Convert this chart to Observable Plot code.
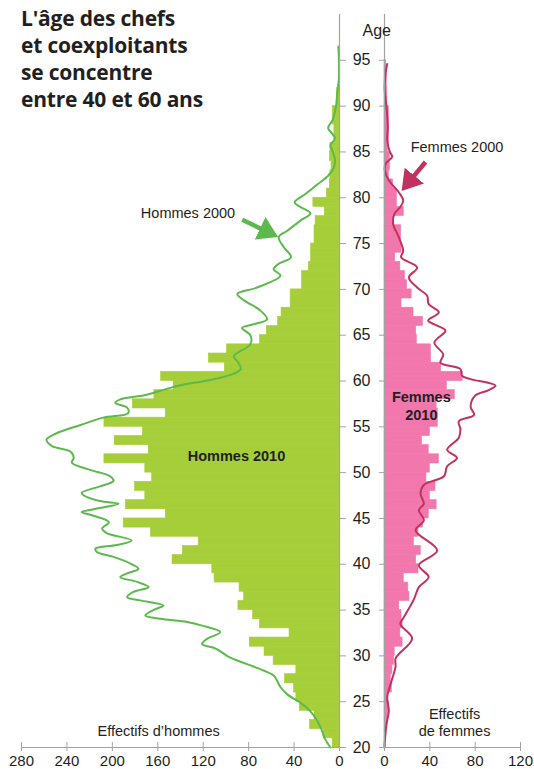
<!DOCTYPE html>
<html><head><meta charset="utf-8">
<script src="https://cdn.jsdelivr.net/npm/d3@7"></script>
<script src="https://cdn.jsdelivr.net/npm/@observablehq/plot@0.6"></script>
<style>
body{margin:0;background:#fff;}
#chart{position:relative;width:534px;height:769px;overflow:hidden;font-family:"Liberation Sans",Arial,sans-serif;}
#title{position:absolute;left:21px;top:5px;font-family:"Open Sans",Lato,sans-serif;font-weight:700;font-size:21px;line-height:27px;letter-spacing:-0.2px;color:#231f20;}
#men,#women{position:absolute;top:0;}
#men{left:0}
#women{left:345px}
</style></head><body>
<div id="chart"><div id="men"></div><div id="women"></div>
<div id="title">L'âge des chefs<br>et coexploitants<br>se concentre<br>entre 40 et 60 ans</div></div>
<script>
// ---- data ----
const menAges = d3.range(20, 92);
const men2010 = [6,14,26,22,35,38,40,48,38,58,
  66,79,44,70,76,89,84,88,110,112,
  147,138,124,166,190,153,188,171,180,165,
  171,207,168,198,173,207,153,182,163,146,
  157,101,115,99,70,64,54,51,43,43,
  33,33,27,25,25,22,22,21,13,23,
  11,8.5,8,7,8.5,8,4.5,4.5,6,6,
  2,2];
const womenAges = d3.range(20, 95);
const women2010 = [1,1.5,2.5,3,4,3,6.5,5.5,7,8.5,
  9,16,14,16,15,13,22,21,17,30,
  28,32,26,30,34,39,46,40,45,37,
  40,48,39,33,40,47,47,46,62,55,
  69,50,41,41,28.5,28,34,25.6,15,24,
  20,18,14,9.5,15,14.7,14.7,8,17,11,
  11,7.6,4,4.7,4.7,3,3.8,3.8,3.8,3.8,
  2.5,2.5,2,2,1.5];
const men2000Age = [96.5,95,93,91.5,90,88.5,87.6,87,86.5,85.7,85.2,84.2,83.3,82.4,81.5,80.4,79.5,79,78.3,77.5,
  76.4,75.7,74.6,73.5,72.8,72.2,71.5,70.2,69.5,68.8,67.7,66.75,66.2,65.8,65,64,62.7,62,61.3,60.8,
  60.1,59.8,59.25,58.5,58,57.6,57.1,56.5,56,55.2,54.3,53.6,52.9,52.3,51.6,51.1,50.3,49.6,49.1,48.5,
  47.8,47.5,46.9,46.6,46,45.7,45.3,44.6,43.9,43.4,42.6,42.1,41.7,41.35,40.8,40.07,39.5,39,38.6,38.07,
  37.5,37,36.4,36.06,35.5,35,34.4,34.05,33.7,33.3,32.6,31.85,31.3,30.8,29.9,29.1,28.4,27.85,27.3,26.6,
  25.8,24.9,24,23,22,21,20];
const men2000Val = [1,0.5,0.5,2,3,6,10,6.5,4,8,6.5,4,5,10,19,30,39.5,34.5,25.6,34.4,
  46,53.5,49,42.6,53.5,58,52,72.6,90,84,69.7,63.8,75.6,85.8,78.5,78.5,93,89,87,93,
  114,128.5,149,169.6,193,197.5,187,186,208,228,249,258,253,237,234,235.7,219.6,202,199,211,
  227,225,211,194.6,216.6,227,216.6,203,209,205,183,196,215,213.7,199,184,177,187,193,178,
  168,181,187,175.5,155,164,171,158,134,121,105,116.7,121,109,97.6,81.4,66.8,58,55,52,
  46,34.4,26,20,16,13,8];
const women2000Age = [94.6,93.6,91.75,89.9,87.7,86.3,85,84.5,83.7,83,81.9,80.6,79.7,79,78.25,77.15,75.7,74.2,73.5,72.4,
  71.3,70.2,69.3,68.4,67.5,66.6,66.2,65.5,64.2,62.9,62,61.3,60.55,60.2,59.5,59,58.4,57.2,56.3,55.6,
  54.7,53.8,52.5,51.6,50.7,49.6,48.65,47.7,46.6,45.9,44.8,43.7,41.5,39.9,38.6,37.5,36.2,34.2,33.5,31.9,
  30.2,29.7,28.8,26.9,25.5,24,22.55,20.7,20];
const women2000Val = [2.4,0.9,0.2,1.8,2.9,2.4,4.7,6.8,1,0.3,3.8,12.6,16.5,14,8.8,7.6,12.6,16.5,14.7,28.8,
  21.5,28.8,37.6,39,48,38.5,43.5,53.8,44,51.8,49.4,67,68.5,76,98,92,80,76,79,65.6,
  67,65.6,55.3,64,55.3,52.4,34.7,31.8,34.7,30.3,34.7,27.4,46.5,30.3,39,30.3,26,17,14,24.4,
  12.6,9.7,9.7,5.3,2.4,3.8,1.8,0.3,0];
const ageTicks = d3.range(20, 100, 5);
const menTicks = [0,40,80,120,160,200,240,280];
const womenTicks = [0,40,80,120];
// annotations (data space)
const menLabels = [
  {text: "Hommes 2000", v: 133.4, age: 78.3},
  {text: "Effectifs d’hommes", v: 159.3, age: 21.8}
];
const menBoldLabels = [{text: "Hommes 2010", v: 90.7, age: 51.8}];
const womenLabels = [
  {text: "Femmes 2000", v: 64, age: 85.55},
  {text: "Effectifs\nde femmes", v: 61.8, age: 22.8}
];
const womenBoldLabels = [{text: "Femmes\n2010", v: 32.5, age: 57.4}];
const menArrow = [{v1: 85.7, a1: 77.6, v2: 60.4, a2: 76.1}];
const womenArrow = [{v1: 36.2, a1: 83.9, v2: 19.6, a2: 81.4}];

const GREEN_BAR = "#a6ce39", GREEN_LINE = "#5cb94c", PINK_BAR = "#f277ac", PINK_LINE = "#c1325f";
const GRAY = "#a3a3a3", INK = "#231f20";
const style = {fontFamily: "'Liberation Sans', Arial, sans-serif", fontSize: "16px", color: INK, background: "transparent", overflow: "visible"};

function addHead(svg, color, id) {
  const s = d3.select(svg);
  s.append("defs").append("marker").attr("id", id)
    .attr("viewBox", "0 0 10 10").attr("refX", 6).attr("refY", 5)
    .attr("markerUnits", "userSpaceOnUse").attr("markerWidth", 20).attr("markerHeight", 25)
    .attr("preserveAspectRatio", "none").attr("orient", "auto")
    .append("path").attr("d", "M0,0L10,5L0,10Z").attr("fill", color);
  s.selectAll("g[aria-label=link] path").attr("marker-end", `url(#${id})`);
}

const menPlot = Plot.plot({
  width: 346, height: 769,
  marginLeft: 21, marginRight: 7, marginTop: 14, marginBottom: 22,
  style,
  x: {domain: [280, 0]},
  y: {domain: [20, 100]},
  marks: [
    Plot.rectX(menAges, {x1: 0, x2: (d, i) => men2010[i], y1: d => d, y2: d => d + 1, fill: GREEN_BAR, stroke: GREEN_BAR, strokeWidth: 0.6}),
    Plot.line(men2000Age, {x: (d, i) => men2000Val[i], y: d => d, stroke: GREEN_LINE, strokeWidth: 2, curve: "catmull-rom"}),
    Plot.ruleX([0], {stroke: GRAY, strokeWidth: 1.2}),
    Plot.ruleY([20], {stroke: GRAY, strokeWidth: 1.2}),
    Plot.axisX({ticks: menTicks, tickSize: 9, dy: -5, tickPadding: 4, fontSize: 15, stroke: GRAY, fill: INK, label: null}),
    Plot.axisY({anchor: "right", ticks: ageTicks, tickSize: 6, tickFormat: () => "", stroke: GRAY, label: null}),
    Plot.text(menLabels, {x: "v", y: "age", text: "text", fontSize: 14.5, fill: INK}),
    Plot.text(menBoldLabels, {x: "v", y: "age", text: "text", fontSize: 14.5, fontWeight: "bold", fill: INK}),
    Plot.link(menArrow, {x1: "v1", y1: "a1", x2: "v2", y2: "a2", stroke: GREEN_LINE, strokeWidth: 4.5})
  ]
});
addHead(menPlot, GREEN_LINE, "headG");
document.getElementById("men").append(menPlot);

const womenPlot = Plot.plot({
  width: 189, height: 769,
  marginLeft: 39, marginRight: 14, marginTop: 14, marginBottom: 22,
  style,
  x: {domain: [0, 120]},
  y: {domain: [20, 100]},
  marks: [
    Plot.rectX(womenAges, {x1: 0, x2: (d, i) => women2010[i], y1: d => d, y2: d => d + 1, fill: PINK_BAR, stroke: PINK_BAR, strokeWidth: 0.6}),
    Plot.line(women2000Age, {x: (d, i) => women2000Val[i], y: d => d, stroke: PINK_LINE, strokeWidth: 2, curve: "catmull-rom"}),
    Plot.ruleX([0], {stroke: GRAY, strokeWidth: 1.2}),
    Plot.ruleY([20], {stroke: GRAY, strokeWidth: 1.2}),
    Plot.axisX({ticks: womenTicks, tickSize: 9, dy: -5, tickPadding: 4, fontSize: 15, stroke: GRAY, fill: INK, label: null}),
    Plot.axisY({anchor: "left", ticks: ageTicks, tickSize: 5, tickPadding: 9, fontSize: 16, stroke: GRAY, fill: INK, label: null}),
    Plot.text(["Age"], {frameAnchor: "top-left", lineAnchor: "middle", text: d => d, dx: -22, dy: 16, fontSize: 16, fill: INK}),
    Plot.text(womenLabels, {x: "v", y: "age", text: "text", fontSize: 14.5, lineHeight: 1.15, fill: INK}),
    Plot.text(womenBoldLabels, {x: "v", y: "age", text: "text", fontSize: 14.5, lineHeight: 1.25, fontWeight: "bold", fill: INK}),
    Plot.link(womenArrow, {x1: "v1", y1: "a1", x2: "v2", y2: "a2", stroke: PINK_LINE, strokeWidth: 4.5})
  ]
});
addHead(womenPlot, PINK_LINE, "headP");
document.getElementById("women").append(womenPlot);
</script>
</body></html>
